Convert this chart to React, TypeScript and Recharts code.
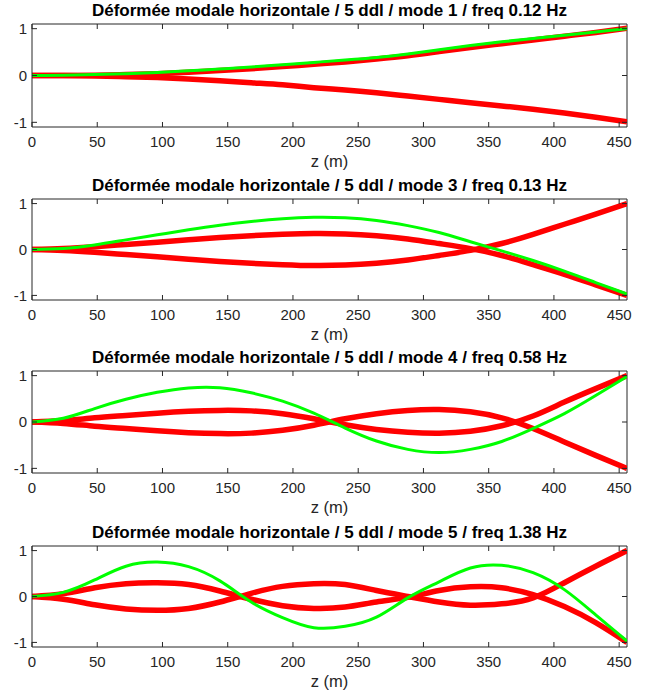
import React from 'react';
import { LineChart, Line, XAxis, YAxis, ReferenceLine } from 'recharts';

// Heights along the structure (m)
const Z_M = [0, 24, 48, 72, 96, 120, 144, 168, 192, 216, 240, 264, 288, 312, 336, 360, 384, 408, 432, 456];

// Mode 1 / freq 0.12 Hz
const MODE1_GREEN = [0, 0.005, 0.02, 0.04, 0.065, 0.1, 0.14, 0.18, 0.23, 0.28, 0.33, 0.385, 0.46, 0.55, 0.64, 0.72, 0.79, 0.86, 0.93, 1.0];
const MODE1_RED_A = [0, 0, 0.005, 0.02, 0.04, 0.07, 0.105, 0.145, 0.19, 0.24, 0.29, 0.35, 0.42, 0.51, 0.6, 0.68, 0.76, 0.84, 0.92, 1.01];
const MODE1_RED_B = [0, 0, -0.01, -0.025, -0.045, -0.075, -0.11, -0.155, -0.2, -0.26, -0.31, -0.37, -0.44, -0.51, -0.58, -0.65, -0.72, -0.8, -0.89, -0.99];

// Mode 3 / freq 0.13 Hz
const MODE3_GREEN = [0, 0.02, 0.1, 0.21, 0.32, 0.43, 0.53, 0.61, 0.67, 0.7, 0.69, 0.63, 0.52, 0.37, 0.17, -0.03, -0.24, -0.47, -0.72, -0.97];
const MODE3_RED_A = [0, 0.02, 0.06, 0.11, 0.16, 0.21, 0.26, 0.3, 0.33, 0.35, 0.34, 0.3, 0.23, 0.13, 0.02, -0.13, -0.33, -0.54, -0.77, -1.0];
const MODE3_RED_B = [0, -0.02, -0.06, -0.11, -0.16, -0.21, -0.26, -0.3, -0.33, -0.35, -0.34, -0.3, -0.23, -0.13, -0.02, 0.13, 0.33, 0.55, 0.77, 1.0];

// Mode 4 / freq 0.58 Hz
const MODE4_GREEN = [0, 0.08, 0.29, 0.49, 0.64, 0.735, 0.74, 0.63, 0.45, 0.19, -0.13, -0.41, -0.59, -0.66, -0.59, -0.42, -0.14, 0.18, 0.57, 0.98];
const MODE4_RED_A = [0, 0.03, 0.09, 0.14, 0.19, 0.23, 0.25, 0.24, 0.18, 0.07, -0.06, -0.16, -0.22, -0.24, -0.2, -0.08, 0.13, 0.43, 0.72, 1.0];
const MODE4_RED_B = [0, -0.03, -0.09, -0.14, -0.19, -0.23, -0.25, -0.24, -0.18, -0.07, 0.07, 0.18, 0.25, 0.27, 0.22, 0.09, -0.14, -0.43, -0.72, -1.0];

// Mode 5 / freq 1.38 Hz
const MODE5_GREEN = [0, 0.09, 0.36, 0.66, 0.75, 0.65, 0.34, -0.12, -0.46, -0.68, -0.65, -0.45, -0.03, 0.32, 0.62, 0.68, 0.52, 0.15, -0.4, -0.97];
const MODE5_RED_A = [0, 0.06, 0.19, 0.28, 0.3, 0.26, 0.12, -0.06, -0.2, -0.26, -0.23, -0.12, -0.02, 0.13, 0.21, 0.19, 0.04, -0.22, -0.57, -1.0];
const MODE5_RED_B = [0, -0.06, -0.18, -0.27, -0.3, -0.26, -0.12, 0.07, 0.22, 0.28, 0.26, 0.13, 0.0, -0.12, -0.19, -0.16, -0.03, 0.3, 0.66, 1.0];

const TITLES = [
  'Déformée modale horizontale / 5 ddl / mode 1 / freq 0.12 Hz',
  'Déformée modale horizontale / 5 ddl / mode 3 / freq 0.13 Hz',
  'Déformée modale horizontale / 5 ddl / mode 4 / freq 0.58 Hz',
  'Déformée modale horizontale / 5 ddl / mode 5 / freq 1.38 Hz',
];
const X_TICKS = [0, 50, 100, 150, 200, 250, 300, 350, 400, 450];
const Y_TICKS = [-1, 0, 1];
const X_LABEL = 'z (m)';

const GREENS = [MODE1_GREEN, MODE3_GREEN, MODE4_GREEN, MODE5_GREEN];
const REDS_A = [MODE1_RED_A, MODE3_RED_A, MODE4_RED_A, MODE5_RED_A];
const REDS_B = [MODE1_RED_B, MODE3_RED_B, MODE4_RED_B, MODE5_RED_B];

// layout
const W = 654;
const PLOT_LEFT = 32;
const PLOT_RIGHT = 627;
const TOP_PAD = 24;
const BOTTOM_PAD = 50;
const PANEL_TOPS = [24, 199, 371, 546];
const PANEL_HEIGHTS = [103, 101, 102, 101];
const AX = '#262626';
const FONT = '"Liberation Sans", Arial, Helvetica, sans-serif';

const makeXTick = (plotTop: number) => (props: any) => {
  const { x, y, payload } = props;
  return (
    <g>
      <line x1={x} x2={x} y1={y} y2={y - 5} stroke={AX} strokeWidth={1} />
      <line x1={x} x2={x} y1={plotTop} y2={plotTop + 5} stroke={AX} strokeWidth={1} />
      <text x={x} y={y + 20} textAnchor="middle" fontSize={15} fill={AX} fontFamily={FONT}>
        {payload.value}
      </text>
    </g>
  );
};

const YTick = (props: any) => {
  const { x, y, payload } = props;
  return (
    <g>
      <line x1={x} x2={x + 5} y1={y} y2={y} stroke={AX} strokeWidth={1} />
      <line x1={PLOT_RIGHT} x2={PLOT_RIGHT - 5} y1={y} y2={y} stroke={AX} strokeWidth={1} />
      <text x={x - 5} y={y + 5.4} textAnchor="end" fontSize={15} fill={AX} fontFamily={FONT}>
        {payload.value}
      </text>
    </g>
  );
};

function Panel({ idx }: { idx: number }) {
  const plotH = PANEL_HEIGHTS[idx];
  const h = TOP_PAD + plotH + BOTTOM_PAD;
  const data = Z_M.map((z, i) => ({ z, a: REDS_A[idx][i], b: REDS_B[idx][i], g: GREENS[idx][i] }));
  return (
    <div style={{ position: 'absolute', left: 0, top: PANEL_TOPS[idx] - TOP_PAD, width: W, height: h }}>
      <div
        style={{
          position: 'absolute',
          left: PLOT_LEFT,
          width: PLOT_RIGHT - PLOT_LEFT,
          top: 2.4,
          textAlign: 'center',
          fontSize: 17,
          lineHeight: '17px',
          fontWeight: 'bold',
          color: '#000',
          whiteSpace: 'nowrap',
          fontFamily: FONT,
        }}
      >
        {TITLES[idx]}
      </div>
      <div
        style={{
          position: 'absolute',
          left: PLOT_LEFT,
          width: PLOT_RIGHT - PLOT_LEFT,
          top: TOP_PAD + plotH + 26,
          textAlign: 'center',
          fontSize: 16.5,
          lineHeight: '16.5px',
          color: AX,
          fontFamily: FONT,
        }}
      >
        {X_LABEL}
      </div>
      <LineChart
        width={W}
        height={h}
        data={data}
        margin={{ top: TOP_PAD, right: W - PLOT_RIGHT, bottom: 0, left: 0 }}
      >
        <XAxis
          dataKey="z"
          type="number"
          domain={[0, 456]}
          ticks={X_TICKS}
          allowDataOverflow
          height={BOTTOM_PAD}
          tickSize={0}
          tickMargin={0}
          tickLine={false}
          axisLine={{ stroke: AX, strokeWidth: 1 }}
          tick={makeXTick(TOP_PAD)}
          interval={0}
        />
        <YAxis
          type="number"
          domain={[-1.1, 1.1]}
          ticks={Y_TICKS}
          allowDataOverflow
          width={PLOT_LEFT}
          tickSize={0}
          tickMargin={0}
          tickLine={false}
          axisLine={{ stroke: AX, strokeWidth: 1 }}
          tick={<YTick />}
          interval={0}
        />
        <ReferenceLine y={1.1} stroke={AX} strokeWidth={1} />
        <ReferenceLine x={456} stroke={AX} strokeWidth={1} />
        <Line type="natural" dataKey="a" stroke="#ff0000" strokeWidth={5.5} dot={false} isAnimationActive={false} />
        <Line type="natural" dataKey="b" stroke="#ff0000" strokeWidth={5.5} dot={false} isAnimationActive={false} />
        <Line type="natural" dataKey="g" stroke="#00ff00" strokeWidth={3} dot={false} isAnimationActive={false} />
      </LineChart>
    </div>
  );
}

export default function App() {
  return (
    <div style={{ position: 'absolute', left: 0, top: 0, width: W, height: 698, background: '#fff' }}>
      {[0, 1, 2, 3].map((i) => (
        <Panel key={i} idx={i} />
      ))}
    </div>
  );
}
